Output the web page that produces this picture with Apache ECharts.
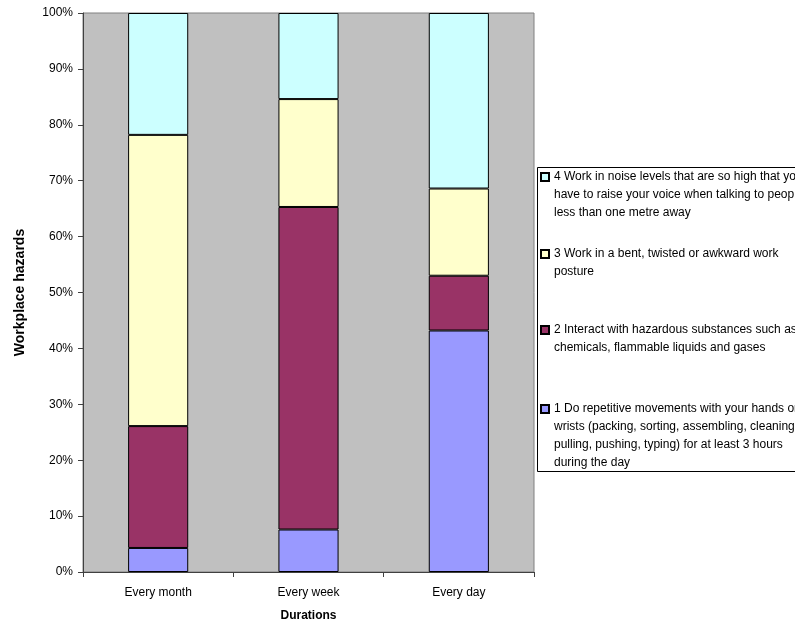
<!DOCTYPE html>
<html>
<head>
<meta charset="utf-8">
<script src="https://cdn.jsdelivr.net/npm/echarts@6/dist/echarts.min.js"></script>
<style>
  html, body { margin: 0; padding: 0; background: #fff; }
  #hazards { width: 795px; height: 628px; }
</style>
</head>
<body>
<div id="hazards"></div>
<script>
// data
var durations = ['Every month', 'Every week', 'Every day']
var repetitive = [4.3, 7.6, 43.2]
var substances = [21.8, 57.7, 9.8]
var posture = [52.1, 19.3, 15.6]
var noise = [21.8, 15.4, 31.4]

var seriesNames = [
  '1 Do repetitive movements with your hands or wrists',
  '2 Interact with hazardous substances',
  '3 Work in a bent, twisted or awkward work posture',
  '4 Work in noise levels'
]
var legendLines = [
  ['1 Do repetitive movements with your hands or', 'wrists (packing, sorting, assembling, cleaning,', 'pulling, pushing, typing) for at least 3 hours', 'during the day'],
  ['2 Interact with hazardous substances such as', 'chemicals, flammable liquids and gases'],
  ['3 Work in a bent, twisted or awkward work', 'posture'],
  ['4 Work in noise levels that are so high that you', 'have to raise your voice when talking to people', 'less than one metre away']
]
var colors = ['#9999FF', '#993366', '#FFFFCC', '#CCFFFF']
var values = [repetitive, substances, posture, noise]
// first-line centre of each legend entry
var legendCentres = [409, 330, 254, 177]

var font = 'Liberation Sans, Arial, sans-serif'
var lineH = 18

var chart = echarts.init(document.getElementById('hazards'))

var series = seriesNames.map(function (name, i) {
  return {
    name: name,
    type: 'bar',
    stack: 'total',
    barCategoryGap: '60%',
    itemStyle: { color: colors[i], borderColor: '#000', borderWidth: 1 },
    emphasis: { disabled: true },
    data: values[i]
  }
})

// the legend text is centred on its icon, so blank lines above
// push the first real line level with the square, as in Excel
var legends = seriesNames.map(function (name, i) {
  var n = legendLines[i].length
  var blank = new Array(n).join('\n')
  return {
    data: [name],
    left: 540,
    top: legendCentres[i] - (2 * n - 1) * lineH / 2,
    padding: 0,
    itemWidth: 8,
    itemHeight: 8,
    icon: 'rect',
    z: 5,
    formatter: function () { return blank + legendLines[i].join('\n') },
    textStyle: {
      fontFamily: font,
      fontSize: 12,
      color: '#000',
      lineHeight: lineH
    }
  }
})

var option = {
  backgroundColor: '#fff',
  animation: false,
  textStyle: { fontFamily: font },
  grid: {
    left: 83,
    right: 261,
    top: 13,
    bottom: 56,
    show: true,
    backgroundColor: '#C0C0C0',
    borderColor: '#808080',
    borderWidth: 1
  },
  legend: legends,
  graphic: [{
    type: 'rect',
    z: 1,
    shape: { x: 537.5, y: 167.5, width: 320, height: 304 },
    style: { fill: '#fff', stroke: '#000', lineWidth: 1 }
  }],
  xAxis: {
    type: 'category',
    data: durations,
    name: 'Durations',
    nameLocation: 'middle',
    nameGap: 38,
    nameTextStyle: { fontFamily: font, fontSize: 12, fontWeight: 'bold', color: '#000' },
    axisLine: { lineStyle: { color: '#404040', width: 1 } },
    axisTick: { show: true, length: 5, lineStyle: { color: '#404040' } },
    axisLabel: { fontFamily: font, fontSize: 12, color: '#000', margin: 15 },
    splitLine: { show: false }
  },
  yAxis: {
    type: 'value',
    min: 0,
    max: 100,
    interval: 10,
    name: 'Workplace hazards',
    nameLocation: 'middle',
    nameRotate: 90,
    nameGap: 56,
    nameTextStyle: { fontFamily: font, fontSize: 14, fontWeight: 'bold', color: '#000' },
    axisLine: { show: true, lineStyle: { color: '#404040', width: 1 } },
    axisTick: { show: true, length: 5, lineStyle: { color: '#404040' } },
    axisLabel: { formatter: '{value}%', fontFamily: font, fontSize: 12, color: '#000', margin: 10 },
    splitLine: { show: false }
  },
  series: series
}

chart.setOption(option)
</script>
</body>
</html>
